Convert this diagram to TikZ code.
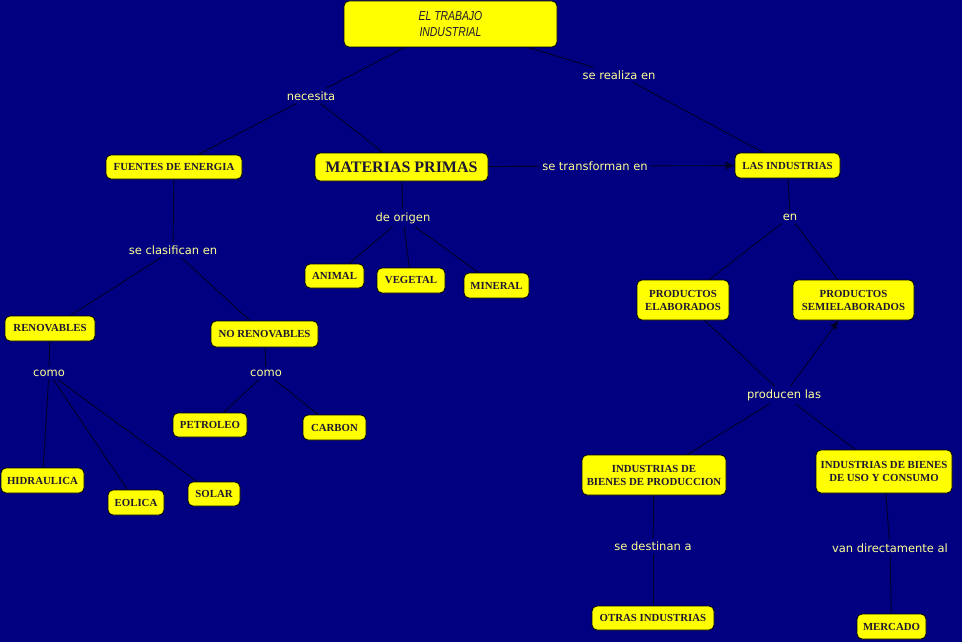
\documentclass[tikz,border=0pt]{standalone}
\usepackage{fontspec}
\setmainfont{Liberation Serif}
\newfontfamily\lblfont{DejaVu Sans}
\newfontfamily\ttlfont[FakeStretch=0.8]{Liberation Sans}
\usetikzlibrary{arrows.meta}
\definecolor{bg}{RGB}{0,0,128}
\definecolor{boxy}{RGB}{255,255,0}
\definecolor{lbl}{RGB}{255,255,150}
\definecolor{ln}{RGB}{0,0,40}
\definecolor{btxt}{RGB}{30,25,50}
\begin{document}
\begin{tikzpicture}[x=1pt,y=-1pt,
 box/.style={draw=black, line width=0.8pt, fill=boxy, text=btxt, rounded corners=5pt, inner sep=0pt, align=center, font=\bfseries\fontsize{10.8}{13}\selectfont},
 lab/.style={text=lbl, font=\lblfont\fontsize{11.5}{13}\selectfont, inner sep=3pt},
 con/.style={draw=ln, line width=0.9pt},
 arr/.style={con, -{Latex[length=9pt,width=8pt]}}]
\fill[bg] (0,0) rectangle (962,642);
\useasboundingbox (0,0) rectangle (962,642);

% boxes
\node[box, minimum width=213pt, minimum height=46pt, font=\ttlfont\itshape\fontsize{13}{16}\selectfont] (t) at (450.5,24) {EL TRABAJO\\INDUSTRIAL};
\node[box, minimum width=136pt, minimum height=24pt] (fue) at (174,167) {FUENTES DE ENERGIA};
\node[box, minimum width=173pt, minimum height=28pt, font=\bfseries\fontsize{16}{18}\selectfont] (mat) at (401.5,167) {MATERIAS PRIMAS};
\node[box, minimum width=105pt, minimum height=25pt] (ind) at (787.5,165.5) {LAS INDUSTRIAS};
\node[box, minimum width=59pt, minimum height=24pt] (ani) at (334.5,276) {ANIMAL};
\node[box, minimum width=68pt, minimum height=25pt] (veg) at (411,280.5) {VEGETAL};
\node[box, minimum width=65pt, minimum height=25pt] (min) at (496.5,285.5) {MINERAL};
\node[box, minimum width=90pt, minimum height=25pt] (ren) at (50,328.5) {RENOVABLES};
\node[box, minimum width=107pt, minimum height=26pt] (nren) at (264.5,334) {NO RENOVABLES};
\node[box, minimum width=74pt, minimum height=24pt] (pet) at (210,425) {PETROLEO};
\node[box, minimum width=63pt, minimum height=25pt] (car) at (334.5,427.5) {CARBON};
\node[box, minimum width=83pt, minimum height=25pt] (hid) at (42.5,480.5) {HIDRAULICA};
\node[box, minimum width=56pt, minimum height=25pt] (eol) at (136,502.5) {EOLICA};
\node[box, minimum width=52pt, minimum height=24pt] (sol) at (214,494) {SOLAR};
\node[box, minimum width=92pt, minimum height=40pt] (pel) at (683,300) {PRODUCTOS\\ELABORADOS};
\node[box, minimum width=121pt, minimum height=40pt] (psm) at (853.5,300) {PRODUCTOS\\SEMIELABORADOS};
\node[box, minimum width=144pt, minimum height=40pt] (bpr) at (654,475) {INDUSTRIAS DE\\BIENES DE PRODUCCION};
\node[box, minimum width=136pt, minimum height=43pt] (bco) at (884,471.5) {INDUSTRIAS DE BIENES\\DE USO Y CONSUMO};
\node[box, minimum width=122pt, minimum height=24pt] (otr) at (653,618) {OTRAS INDUSTRIAS};
\node[box, minimum width=69pt, minimum height=25pt] (mer) at (891.5,626.5) {MERCADO};

% labels
\node[lab] (nec) at (311,96) {necesita};
\node[lab] (rea) at (619,75) {se realiza en};
\node[lab] (tra) at (595,166) {se transforman en};
\node[lab] (ori) at (403,218) {de origen};
\node[lab] (cla) at (173,250) {se clasifican en};
\node[lab] (co1) at (49,373) {como};
\node[lab] (co2) at (266,373) {como};
\node[lab] (en) at (790,217) {en};
\node[lab] (pro) at (784,395) {producen las};
\node[lab] (des) at (653,546) {se destinan a};
\node[lab] (van) at (890,548) {van directamente al};

% connectors
\draw[con] (t) -- (nec);
\draw[con] (nec) -- (fue);
\draw[con] (nec) -- (mat);
\draw[con] (t) -- (rea);
\draw[con] (rea) -- (ind);
\draw[con] (mat) -- (tra);
\draw[arr] (tra) -- (ind);
\draw[con] (mat) -- (ori);
\draw[con] (ori) -- (ani);
\draw[con] (ori) -- (veg);
\draw[con] (ori) -- (min);
\draw[con] (fue) -- (cla);
\draw[con] (cla) -- (ren);
\draw[con] (cla) -- (nren);
\draw[con] (ren) -- (co1);
\draw[con] (co1) -- (hid);
\draw[con] (co1) -- (eol);
\draw[con] (co1) -- (sol);
\draw[con] (nren) -- (co2);
\draw[con] (co2) -- (pet);
\draw[con] (co2) -- (car);
\draw[con] (ind) -- (en);
\draw[con] (en) -- (pel);
\draw[con] (en) -- (psm);
\draw[con] (pel) -- (pro);
\draw[con] (bpr) -- (pro);
\draw[con] (bco) -- (pro);
\draw[arr] (pro) -- (psm);
\draw[con] (bpr) -- (des);
\draw[con] (des) -- (otr);
\draw[con] (bco) -- (van);
\draw[con] (van) -- (mer);
\end{tikzpicture}
\end{document}
